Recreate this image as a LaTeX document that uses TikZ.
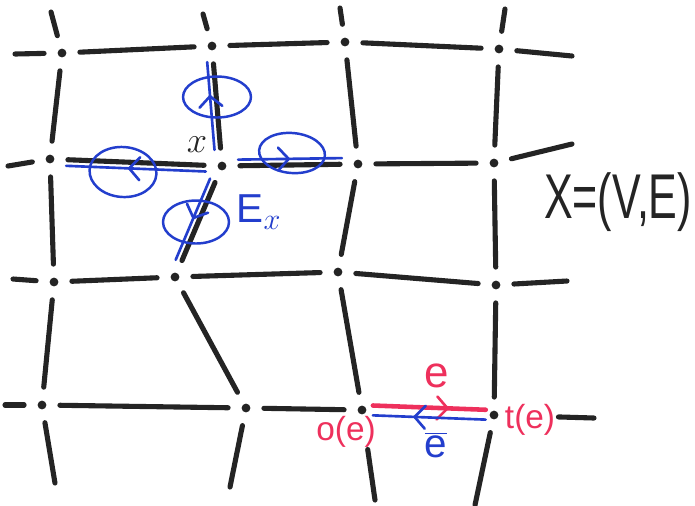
\documentclass[tikz,border=0pt]{standalone}
\usepackage{fontspec}
\setmainfont{Liberation Sans}
\usetikzlibrary{arrows.meta,calc,decorations.markings,shapes.geometric}
\definecolor{inkblack}{RGB}{36,36,36}
\definecolor{inkblue}{RGB}{35,62,205}
\definecolor{inkred}{RGB}{238,48,92}

\begin{document}
\begin{tikzpicture}[
  x=.02cm,y=-.02cm,
  every node/.style={font=\fontsize{19}{21}\selectfont,text=inkblack},
  vertex/.style={circle,inner sep=0pt,minimum size=5pt,fill=inkblack},
  edge/.style={line width=2.9pt,inkblack,line cap=round,shorten <=7.5pt,shorten >=7.5pt},
  stub/.style={line width=2.9pt,inkblack,line cap=round,shorten <=7.5pt},
  dual/.style={line width=1.5pt,inkblue,line cap=round,shorten <=6.5pt,shorten >=6.5pt},
  orient/.style={line width=2.6pt,inkred,line cap=round,shorten <=3.5pt,shorten >=2pt},
  midtip/.style={postaction={decorate},decoration={markings,
      mark=at position #1 with {\arrow[line width=1.5pt]{Straight Barb[length=6pt,width=13pt,round]}}}},
  orbit/.style={ellipse,draw=inkblue,line width=1.4pt,inner sep=0pt}
]
\path[use as bounding box] (0,0) rectangle (695,505);
\fill[white] (0,0) rectangle (695,505);

% vertices of the grid, row by row
\node[vertex] (v11) at (62,53) {};
\node[vertex] (v12) at (212,46) {};
\node[vertex] (v13) at (345,42) {};
\node[vertex] (v14) at (499,49) {};
\node[vertex] (v21) at (50,159) {};
\node[vertex] (v22) at (222,166) {};
\node[vertex] (v23) at (358,164) {};
\node[vertex] (v24) at (494,163) {};
\node[vertex] (v31) at (54,282) {};
\node[vertex] (v32) at (175,277) {};
\node[vertex] (v33) at (338,272) {};
\node[vertex] (v34) at (496,285) {};
\node[vertex] (v41) at (42,405) {};
\node[vertex] (v42) at (246,408) {};
\node[vertex] (v43) at (362,410) {};
\node[vertex] (v44) at (494,415) {};

% free ends of the boundary edges
\coordinate (t1) at (51,12);
\coordinate (t2) at (203,14);
\coordinate (t3) at (340,8);
\coordinate (t4) at (505,9);
\coordinate (l1) at (15,54);
\coordinate (l2) at (8,166);
\coordinate (l3) at (13,279);
\coordinate (l4) at (5,405);
\coordinate (r1) at (572,56);
\coordinate (r2) at (572,144);
\coordinate (r3) at (567,281);
\coordinate (r4) at (594,418);
\coordinate (b1) at (55,483);
\coordinate (b2) at (230,487);
\coordinate (b3) at (375,500);
\coordinate (b4) at (475,505);

\foreach \a/\b in {v11/v12,v12/v13,v13/v14,v21/v22,v22/v23,v23/v24,
    v31/v32,v32/v33,v33/v34,v41/v42,v42/v43,
    v11/v21,v12/v22,v13/v23,v14/v24,v21/v31,v22/v32,v23/v33,v24/v34,
    v31/v41,v32/v42,v33/v43,v34/v44}
  \draw[edge] (\a) -- (\b);
\foreach \a/\b in {v11/t1,v12/t2,v13/t3,v14/t4,v11/l1,v21/l2,v31/l3,v41/l4,
    v14/r1,v24/r2,v34/r3,v41/b1,v42/b2,v44/b4}
  \draw[stub] (\a) -- (\b);
\draw[stub,shorten <=34pt] (v44) -- (r4);
\draw[stub,shorten <=20pt] (v43) -- (b3);

% the star of x: every edge leaving x, oriented outwards
\draw[dual,midtip=.55,transform canvas={yshift=-3.5pt}] (v22) -- (v21);
\draw[dual,midtip=.6,transform canvas={xshift=-3.5pt}] (v22) -- (v12);
\draw[dual,midtip=.5,transform canvas={yshift=3.5pt}] (v22) -- (v23);
\draw[dual,midtip=.5,transform canvas={xshift=-3.2pt,yshift=1.3pt}] (v22) -- (v32);
\node[orbit,minimum width=1.34cm,minimum height=1cm,rotate=-4] (o1) at (123,172) {};
\node[orbit,minimum width=1.36cm,minimum height=.82cm] (o2) at (217,97) {};
\node[orbit,minimum width=1.32cm,minimum height=.8cm,rotate=-5] (o3) at (292,153) {};
\node[orbit,minimum width=1.32cm,minimum height=.86cm] (o4) at (196,222) {};
\node[font=\fontsize{22}{24}\selectfont] (lx) at (197,145) {$x$};
\node[text=inkblue,font=\fontsize{23}{25}\selectfont] (lEx) at (259,212) {E$_x$};

% one edge e and its reverse
\draw[orient,midtip=.67,transform canvas={yshift=2.8pt}] (v43) -- (v44);
\draw[dual,shorten <=2pt,shorten >=3.5pt,midtip=.62,transform canvas={yshift=-2.8pt}] (v44) -- (v43);
\node[text=inkred,font=\fontsize{25}{27}\selectfont] (le) at (437,376) {e};
\node[text=inkred] (loe) at (346,432) {o(e)};
\node[text=inkred] (lte) at (530,420) {t(e)};
\node[text=inkblue,font=\fontsize{23}{25}\selectfont] (lbe) at (436,445) {$\overline{\mbox{e}}$};

\node[font=\fontsize{36}{38}\selectfont] (lX) at (618,202) {\scalebox{.68}[1]{X=(V,E)}};
\end{tikzpicture}
\end{document}
